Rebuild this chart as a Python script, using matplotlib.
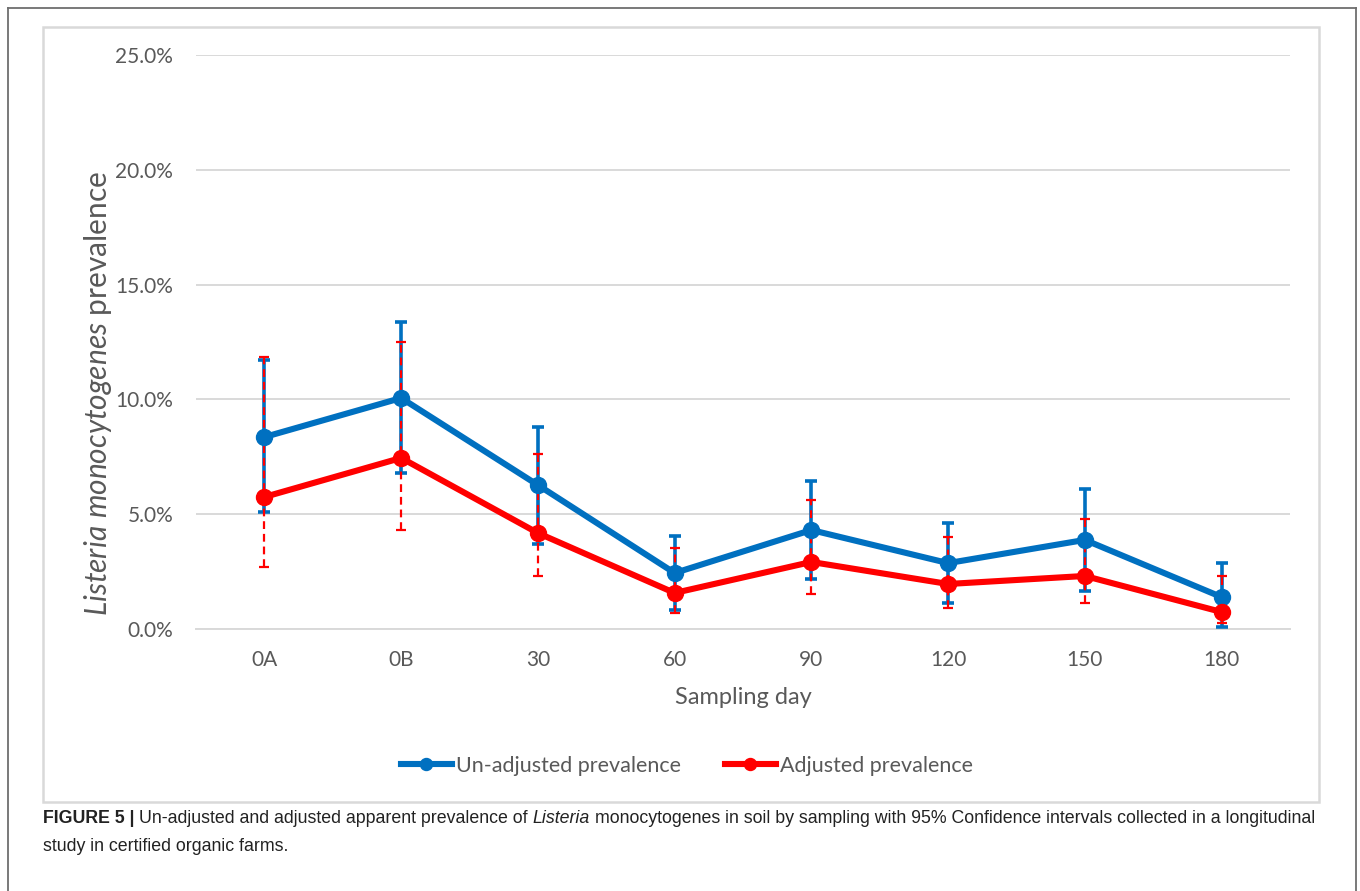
import matplotlib
matplotlib.use("Agg")
import matplotlib.pyplot as plt
from matplotlib.patches import Rectangle
from matplotlib.lines import Line2D
from matplotlib.ticker import FuncFormatter

# Sampling days and prevalence estimates (%) with 95% confidence limits
categories = ["0A", "0B", "30", "60", "90", "120", "150", "180"]
unadjusted = [8.36, 10.06, 6.27, 2.44, 4.31, 2.87, 3.88, 1.39]
unadjusted_low = [5.10, 6.79, 3.70, 0.83, 2.18, 1.13, 1.66, 0.10]
unadjusted_high = [11.72, 13.37, 8.80, 4.05, 6.45, 4.62, 6.10, 2.87]
adjusted = [5.75, 7.45, 4.18, 1.57, 2.92, 1.96, 2.31, 0.74]
adjusted_low = [2.70, 4.31, 2.31, 0.70, 1.52, 0.91, 1.13, 0.26]
adjusted_high = [11.85, 12.50, 7.62, 3.53, 5.62, 4.01, 4.79, 2.31]

BLUE = "#0070C0"
RED = "#FF0000"
GRID = "#D9D9D9"
TEXT = "#595959"

plt.rcParams["font.family"] = ["Lato", "DejaVu Sans"]
plt.rcParams["mathtext.fontset"] = "custom"
plt.rcParams["mathtext.rm"] = "Lato"
plt.rcParams["mathtext.it"] = "Lato:italic"

W, H = 1360, 891
fig = plt.figure(figsize=(W / 100, H / 100), dpi=100)

# outer page frame (left, top, right edges) and inner chart area frame
frame_kw = dict(transform=fig.transFigure, color="#6E6E6E", lw=1.3)
fig.add_artist(Line2D([8 / W, 8 / W], [0, 1 - 8 / H], **frame_kw))
fig.add_artist(Line2D([1356 / W, 1356 / W], [0, 1 - 8 / H], **frame_kw))
fig.add_artist(Line2D([8 / W, 1356 / W], [1 - 8 / H, 1 - 8 / H], **frame_kw))
fig.add_artist(Rectangle((43 / W, 1 - 802 / H), (1319 - 43) / W, (802 - 27) / H,
                         transform=fig.transFigure, fill=False, edgecolor=GRID, lw=1.8))

ax = fig.add_axes([196 / W, 1 - 629 / H, (1290 - 196) / W, (629 - 55) / H])
x = list(range(len(categories)))

def err(vals, lo, hi):
    return [[v - l for v, l in zip(vals, lo)], [h - v for v, h in zip(vals, hi)]]

# confidence intervals
ax.errorbar(x, unadjusted, yerr=err(unadjusted, unadjusted_low, unadjusted_high),
            fmt="none", ecolor=BLUE, elinewidth=2.6, capsize=4.5, capthick=2.6,
            zorder=3)
eb_a = ax.errorbar(x, adjusted, yerr=err(adjusted, adjusted_low, adjusted_high),
                   fmt="none", ecolor=RED, elinewidth=1.6, capsize=3.6, capthick=1.6,
                   zorder=4)
for lc in eb_a[2]:
    lc.set_linestyle((0, (3.5, 2.2)))

# prevalence lines
ax.plot(x, unadjusted, color=BLUE, lw=4.4, marker="o", markersize=11.5,
        label="Un-adjusted prevalence", zorder=5)
ax.plot(x, adjusted, color=RED, lw=4.4, marker="o", markersize=11.5,
        label="Adjusted prevalence", zorder=6)

ax.set_xlim(-0.5, len(categories) - 0.5)
ax.set_ylim(0, 25)
ax.set_yticks([0, 5, 10, 15, 20, 25])
ax.yaxis.set_major_formatter(FuncFormatter(lambda v, p: f"{v:.1f}%"))
ax.set_xticks(x)
ax.set_xticklabels(categories)
ax.grid(axis="y", color=GRID, lw=1.4)
ax.set_axisbelow(True)
for side in ("left", "right", "top"):
    ax.spines[side].set_visible(False)
ax.spines["bottom"].set_color(GRID)
ax.spines["bottom"].set_linewidth(1.4)
ax.tick_params(axis="both", length=0, labelsize=15, labelcolor=TEXT)
ax.tick_params(axis="y", pad=16.5)
ax.tick_params(axis="x", pad=15)

ax.set_xlabel("Sampling day", fontsize=17, color=TEXT, labelpad=12)
fig.text(98 / W, 1 - 394 / H, r"$\mathit{Listeria\ monocytogenes}$ prevalence",
         fontsize=21.5, color=TEXT, rotation=90, ha="center", va="center")

leg = fig.legend(loc="center", bbox_to_anchor=(687 / W, 1 - 766 / H), ncol=2,
                 frameon=False, fontsize=15.5, handlelength=2.4, handletextpad=0.2,
                 columnspacing=2.0, markerscale=0.75)
for t in leg.get_texts():
    t.set_color(TEXT)

# caption with mixed bold / italic runs
fig.canvas.draw()
renderer = fig.canvas.get_renderer()
cap_font = dict(family=["Liberation Sans", "DejaVu Sans"], fontsize=12.8, color="#222222")

def width_of(s, **kw):
    t = fig.text(0, 0, s, **kw)
    w = t.get_window_extent(renderer).width
    t.remove()
    return w

space_w = width_of("a a", **cap_font) - width_of("aa", **cap_font)

def draw_runs(x_px, y_px, runs):
    for s, style in runs:
        if s == " ":
            x_px += space_w
            continue
        kw = dict(cap_font)
        if style == "bold":
            kw["fontweight"] = "bold"
        elif style == "italic":
            kw["fontstyle"] = "italic"
        t = fig.text(x_px / W, 1 - y_px / H, s, va="baseline", ha="left", **kw)
        x_px += t.get_window_extent(renderer).width

draw_runs(43, 823, [("FIGURE 5 |", "bold"), (" ", None),
                    ("Un-adjusted and adjusted apparent prevalence of", None), (" ", None),
                    ("Listeria", "italic"), (" ", None),
                    ("monocytogenes in soil by sampling with 95% Confidence intervals "
                     "collected in a longitudinal", None)])
draw_runs(43, 851, [("study in certified organic farms.", None)])

fig.savefig("out.png", dpi=100, facecolor="white")
